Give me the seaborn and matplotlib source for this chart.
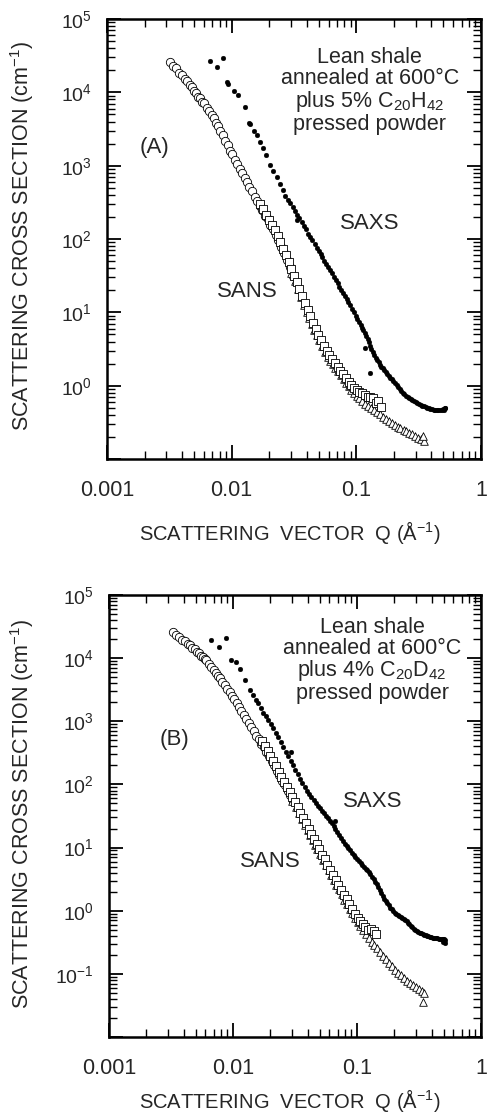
import numpy as np
import pandas as pd
import seaborn as sns
import matplotlib
matplotlib.use("Agg")
import matplotlib.pyplot as plt
from matplotlib.ticker import LogLocator, NullFormatter

# ---------------------------------------------------------------- data
# Panel A: lean shale annealed at 600 C plus 5% C20H42, pressed powder
q_a_circ = [0.0032, 0.0034, 0.0036, 0.0038, 0.0040, 0.0042, 0.0044, 0.0046, 0.0048, 0.0050,
            0.0052, 0.0054, 0.0056, 0.0058, 0.0060, 0.0063, 0.0066, 0.0069, 0.0072, 0.0075,
            0.0078, 0.0081, 0.0085, 0.0089, 0.0093, 0.0097, 0.0101, 0.0106, 0.0111, 0.0116,
            0.0121, 0.0127, 0.0133, 0.0139, 0.0146, 0.0153, 0.0160, 0.0168, 0.0176, 0.0185,
            0.0194, 0.0204, 0.0214, 0.0225, 0.0236, 0.0248, 0.0262, 0.0276, 0.0292, 0.0310]
i_a_circ = [25800, 22600, 21500, 18600, 17500, 15300, 14400, 12400, 11800, 10300,
            9800, 8700, 8350, 7400, 7100, 6150, 5650, 4850, 4450, 3850,
            3480, 3010, 2620, 2150, 1890, 1580, 1420, 1190, 1060, 900,
            805, 675, 598, 508, 447, 376, 333, 281, 250, 209,
            186, 155, 137, 114, 98, 79, 65, 51, 41.5, 31.5]

q_a_sq = [0.0170, 0.0180, 0.0190, 0.0200, 0.0211, 0.0222, 0.0234, 0.0246, 0.0259, 0.0272,
          0.0286, 0.0301, 0.0317, 0.0333, 0.0350, 0.0368, 0.0387, 0.0407, 0.0428, 0.0450,
          0.0473, 0.0497, 0.0523, 0.0550, 0.0578, 0.0608, 0.0640, 0.0673, 0.0708, 0.0745,
          0.0783, 0.0823, 0.0866, 0.0910, 0.0957, 0.101, 0.106, 0.111, 0.117, 0.123,
          0.129, 0.136, 0.143, 0.150, 0.158]
i_a_sq = [302, 254, 215, 184, 156, 133, 111, 90.4, 73.8, 60.3,
          49.2, 39.3, 31.7, 25.8, 20.7, 16.6, 13.3, 10.7, 8.83, 7.21,
          5.89, 4.97, 4.15, 3.52, 2.99, 2.64, 2.33, 2.06, 1.82, 1.60,
          1.43, 1.28, 1.13, 1.01, 0.938, 0.879, 0.832, 0.789, 0.741, 0.705,
          0.695, 0.682, 0.585, 0.62, 0.518]

q_a_tri = [0.030, 0.032, 0.034, 0.036, 0.038, 0.040, 0.042, 0.044, 0.046, 0.048,
           0.050, 0.053, 0.056, 0.059, 0.062, 0.065, 0.068, 0.071, 0.075, 0.079,
           0.083, 0.087, 0.091, 0.096, 0.101, 0.106, 0.112, 0.118, 0.124, 0.131,
           0.138, 0.146, 0.154, 0.163, 0.172, 0.182, 0.192, 0.203, 0.214, 0.226,
           0.239, 0.252, 0.266, 0.281, 0.297, 0.314, 0.332, 0.350, 0.345]
i_a_tri = [34.9, 26.5, 20.5, 16.0, 12.5, 10.0, 8.28, 6.89, 5.73, 4.86,
           4.23, 3.48, 2.89, 2.47, 2.20, 1.95, 1.74, 1.57, 1.38, 1.22,
           1.09, 0.975, 0.881, 0.794, 0.731, 0.676, 0.615, 0.566, 0.530, 0.494,
           0.463, 0.434, 0.405, 0.378, 0.352, 0.329, 0.308, 0.291, 0.277, 0.264,
           0.251, 0.239, 0.227, 0.216, 0.206, 0.196, 0.186, 0.178, 0.205]

q_a_saxs = [0.0067, 0.0076, 0.0085, 0.0092, 0.0094, 0.0104, 0.0113, 0.0128, 0.0139, 0.0141,
            0.0150, 0.0160, 0.0169, 0.0178, 0.0190, 0.0203, 0.0216, 0.0231, 0.0244, 0.0258,
            0.0270, 0.0282, 0.0295, 0.0308, 0.0322, 0.0336, 0.0350, 0.0365, 0.0380, 0.0396,
            0.0412, 0.0428, 0.0445, 0.0462, 0.0480, 0.0498, 0.0516, 0.0535, 0.0555, 0.0575,
            0.0596, 0.0617, 0.0639, 0.0661, 0.0684, 0.0708, 0.0732, 0.0757, 0.0783, 0.0810,
            0.0837, 0.0865, 0.0894, 0.0924, 0.0955, 0.0987, 0.102, 0.105, 0.108, 0.111,
            0.114, 0.117, 0.120, 0.123, 0.126, 0.129, 0.132, 0.135, 0.139, 0.143,
            0.147, 0.151, 0.155, 0.159, 0.163, 0.167, 0.172, 0.177, 0.182, 0.187,
            0.192, 0.198, 0.204, 0.210, 0.216, 0.222, 0.229, 0.236, 0.243, 0.250,
            0.258, 0.266, 0.274, 0.282, 0.291, 0.300, 0.309, 0.318, 0.328, 0.338,
            0.348, 0.359, 0.370, 0.381, 0.393, 0.405, 0.417, 0.430, 0.443, 0.456,
            0.470, 0.484, 0.498, 0.510, 0.515, 0.505, 0.0334, 0.128, 0.118]
i_a_saxs = [26700, 22100, 29400, 13800, 13100, 10500, 9190, 6310, 3800, 3650,
            3000, 2610, 2100, 1740, 1400, 1020, 850, 698, 560, 465,
            390, 340, 305, 275, 240, 215, 195, 172, 152, 135,
            118, 106, 96, 85, 76, 68, 62, 56, 50, 46,
            41, 37.5, 34, 30.5, 27.5, 25, 22.5, 20.3, 18.5, 16.8,
            15.2, 13.7, 12.4, 11.2, 10.0, 9.0, 8.1, 7.4, 6.8, 6.1,
            5.7, 5.2, 4.8, 4.3, 3.9, 3.5, 3.2, 2.9, 2.6, 2.4,
            2.25, 2.08, 1.94, 1.80, 1.72, 1.62, 1.54, 1.46, 1.37, 1.29,
            1.22, 1.15, 1.08, 1.02, 0.96, 0.90, 0.85, 0.80, 0.76, 0.73,
            0.70, 0.67, 0.65, 0.63, 0.61, 0.59, 0.575, 0.56, 0.545, 0.53,
            0.52, 0.505, 0.495, 0.49, 0.48, 0.475, 0.47, 0.465, 0.465, 0.46,
            0.46, 0.465, 0.475, 0.49, 0.50, 0.47, 180, 1.5, 3.3]

# Panel B: lean shale annealed at 600 C plus 4% C20D42, pressed powder
q_b_circ = [0.0033, 0.0035, 0.0037, 0.0039, 0.0041, 0.0043, 0.0045, 0.0047, 0.0049, 0.0051,
            0.0053, 0.0055, 0.0057, 0.0059, 0.0061, 0.0064, 0.0067, 0.0070, 0.0073, 0.0076,
            0.0079, 0.0082, 0.0086, 0.0090, 0.0094, 0.0098, 0.0102, 0.0107, 0.0112, 0.0117,
            0.0122, 0.0128, 0.0134, 0.0140, 0.0147, 0.0154, 0.0161, 0.0169, 0.0177, 0.0186,
            0.0195, 0.0205, 0.0215, 0.0226, 0.0237, 0.0249, 0.0262, 0.0276, 0.0290, 0.0305]
i_b_circ = [25900, 23300, 21600, 19300, 18400, 16700, 15900, 14400, 13800, 12500,
            12000, 10900, 10400, 9550, 9200, 8100, 7350, 6420, 5900, 5180,
            4780, 4200, 3760, 3220, 2900, 2520, 2260, 1920, 1690, 1430,
            1280, 1080, 950, 810, 707, 595, 527, 443, 388, 325,
            286, 236, 202, 164, 141, 115, 97, 78.5, 66.8, 54.3]

q_b_sq = [0.0170, 0.0180, 0.0190, 0.0200, 0.0211, 0.0222, 0.0234, 0.0246, 0.0259, 0.0272,
          0.0286, 0.0301, 0.0317, 0.0333, 0.0350, 0.0368, 0.0387, 0.0407, 0.0428, 0.0450,
          0.0473, 0.0497, 0.0523, 0.0550, 0.0578, 0.0608, 0.0640, 0.0673, 0.0708, 0.0745,
          0.0783, 0.0823, 0.0866, 0.0910, 0.0957, 0.101, 0.106, 0.111, 0.117, 0.123,
          0.129, 0.136, 0.141]
i_b_sq = [483, 402, 337, 286, 235, 195, 160, 133, 110, 91.3,
          76.4, 62.8, 52.0, 43.3, 35.7, 29.5, 24.3, 20.0, 16.7, 13.8,
          11.4, 9.44, 7.76, 6.49, 5.38, 4.46, 3.70, 3.08, 2.57, 2.14,
          1.79, 1.51, 1.26, 1.07, 0.90, 0.774, 0.692, 0.622, 0.55, 0.499,
          0.519, 0.481, 0.424]

q_b_tri = [0.030, 0.032, 0.034, 0.036, 0.038, 0.040, 0.042, 0.044, 0.046, 0.048,
           0.050, 0.053, 0.056, 0.059, 0.062, 0.065, 0.068, 0.071, 0.075, 0.079,
           0.083, 0.087, 0.091, 0.096, 0.101, 0.106, 0.112, 0.118, 0.124, 0.131,
           0.138, 0.146, 0.154, 0.163, 0.172, 0.182, 0.192, 0.203, 0.214, 0.226,
           0.239, 0.252, 0.266, 0.281, 0.297, 0.314, 0.332, 0.350, 0.340]
i_b_tri = [55.6, 43.8, 34.8, 28.0, 22.7, 18.7, 15.6, 13.1, 11.0, 9.38,
           8.02, 6.47, 5.27, 4.34, 3.63, 3.04, 2.58, 2.22, 1.82, 1.50,
           1.27, 1.08, 0.931, 0.778, 0.659, 0.575, 0.493, 0.425, 0.372, 0.324,
           0.287, 0.253, 0.223, 0.195, 0.171, 0.150, 0.132, 0.117, 0.105, 0.0948,
           0.0855, 0.0776, 0.0720, 0.0670, 0.0624, 0.0581, 0.0541, 0.0505, 0.036]

q_b_saxs = [0.0067, 0.0077, 0.0087, 0.0097, 0.0105, 0.0113, 0.0126, 0.0138, 0.0146, 0.0153,
            0.0160, 0.0168, 0.0176, 0.0184, 0.0193, 0.0202, 0.0211, 0.0221, 0.0232, 0.0243,
            0.0255, 0.0267, 0.0279, 0.0292, 0.0305, 0.0319, 0.0333, 0.0348, 0.0363, 0.0379,
            0.0395, 0.0412, 0.0429, 0.0446, 0.0464, 0.0482, 0.0501, 0.0520, 0.0540, 0.0560,
            0.0581, 0.0602, 0.0624, 0.0647, 0.0670, 0.0694, 0.0718, 0.0743, 0.0769, 0.0796,
            0.0823, 0.0851, 0.0880, 0.0910, 0.0940, 0.0971, 0.1003, 0.1035, 0.1068, 0.1102,
            0.1137, 0.1172, 0.1208, 0.1245, 0.1283, 0.1322, 0.1361, 0.1401, 0.1442, 0.1484,
            0.1527, 0.1571, 0.1616, 0.1662, 0.1709, 0.1757, 0.1806, 0.1857, 0.1909, 0.1962,
            0.2017, 0.2073, 0.2131, 0.2190, 0.2251, 0.2313, 0.2377, 0.2443, 0.2510, 0.2579,
            0.2650, 0.2723, 0.2798, 0.2875, 0.2954, 0.3035, 0.3118, 0.3204, 0.3292, 0.3382,
            0.3475, 0.3571, 0.3669, 0.3770, 0.3873, 0.3980, 0.4089, 0.4201, 0.4317, 0.4435,
            0.4557, 0.4683, 0.4811, 0.4943, 0.5079, 0.500, 0.510, 0.505, 0.490, 0.0292, 0.0660]
i_b_saxs = [19400, 15000, 20800, 9330, 8670, 6680, 4500, 3160, 2600, 2180,
            1940, 1620, 1350, 1220, 1040, 916, 780, 663, 557, 468,
            392, 329, 279, 238, 203, 172, 147, 123, 106, 90.3,
            77.8, 69.3, 62.7, 56.6, 50.8, 46.1, 41.7, 38.2, 34.9, 32.0,
            29.3, 26.8, 24.7, 22.1, 19.8, 17.7, 15.9, 14.2, 12.7, 11.4,
            10.6, 9.73, 9.0, 8.28, 7.67, 7.10, 6.58, 6.12, 5.70, 5.35,
            4.97, 4.66, 4.36, 4.08, 3.77, 3.44, 3.15, 2.90, 2.61, 2.34,
            2.09, 1.88, 1.71, 1.56, 1.43, 1.31, 1.21, 1.12, 1.05, 0.972,
            0.918, 0.883, 0.849, 0.820, 0.789, 0.759, 0.731, 0.703, 0.676, 0.643,
            0.608, 0.575, 0.545, 0.521, 0.504, 0.484, 0.466, 0.451, 0.440, 0.428,
            0.416, 0.406, 0.399, 0.393, 0.386, 0.380, 0.376, 0.372, 0.368, 0.364,
            0.360, 0.358, 0.355, 0.352, 0.348, 0.33, 0.31, 0.36, 0.32, 330, 26]

# Axis ticks and labels
x_ticks = [0.001, 0.01, 0.1, 1]
x_tick_labels = ["0.001", "0.01", "0.1", "1"]
y_exp_a = [-1, 0, 1, 2, 3, 4, 5]
y_exp_b = [-2, -1, 0, 1, 2, 3, 4, 5]
y_tick_labels_a = ["", r"$10^{0}$", r"$10^{1}$", r"$10^{2}$", r"$10^{3}$", r"$10^{4}$", r"$10^{5}$"]
y_tick_labels_b = ["", r"$10^{-1}$", r"$10^{0}$", r"$10^{1}$", r"$10^{2}$", r"$10^{3}$",
                   r"$10^{4}$", r"$10^{5}$"]

notes_a = ["Lean shale", "annealed at 600°C", r"plus 5% C$_{20}$H$_{42}$", "pressed powder"]
notes_b = ["Lean shale", "annealed at 600°C", r"plus 4% C$_{20}$D$_{42}$", "pressed powder"]

# ---------------------------------------------------------------- style
sns.set_style("ticks")
plt.rcParams["font.family"] = ["Liberation Sans", "DejaVu Sans"]
plt.rcParams["mathtext.fontset"] = "custom"
plt.rcParams["mathtext.rm"] = "Liberation Sans"
plt.rcParams["mathtext.it"] = "Liberation Sans:italic"
plt.rcParams["mathtext.bf"] = "Liberation Sans:bold"
plt.rcParams["mathtext.default"] = "regular"

W, H = 487, 1119
fig = plt.figure(figsize=(W / 100, H / 100), dpi=100)
fig.patch.set_facecolor("white")

ax_a = fig.add_axes([107 / W, 1 - 459 / H, 374 / W, 440 / H])
ax_b = fig.add_axes([109 / W, 1 - 1037 / H, 372 / W, 442 / H])


def draw_panel(ax, circ, sq, tri, saxs, y_exp, y_labels):
    df_c = pd.DataFrame({"Q": circ[0], "I": circ[1]})
    df_t = pd.DataFrame({"Q": tri[0], "I": tri[1]})
    df_s = pd.DataFrame({"Q": sq[0], "I": sq[1]})
    df_x = pd.DataFrame({"Q": saxs[0], "I": saxs[1]})

    sns.scatterplot(data=df_c, x="Q", y="I", ax=ax, marker="o", s=36, color="white",
                    edgecolor="black", linewidth=0.6, zorder=3, legend=False)
    sns.scatterplot(data=df_t, x="Q", y="I", ax=ax, marker="^", s=30, color="white",
                    edgecolor="black", linewidth=0.6, zorder=4, legend=False)
    sns.scatterplot(data=df_s, x="Q", y="I", ax=ax, marker="s", s=34, color="white",
                    edgecolor="black", linewidth=0.6, zorder=5, legend=False)
    sns.scatterplot(data=df_x, x="Q", y="I", ax=ax, marker="o", s=12, color="black",
                    edgecolor="black", linewidth=0.2, zorder=6, legend=False)

    ax.set_xscale("log")
    ax.set_yscale("log")
    ax.set_xlim(1e-3, 1)
    ax.set_ylim(10.0 ** y_exp[0], 10.0 ** y_exp[-1])

    ax.set_xticks(x_ticks, labels=x_tick_labels)
    ax.xaxis.set_minor_locator(LogLocator(base=10, subs=np.arange(2, 10), numticks=20))
    ax.xaxis.set_minor_formatter(NullFormatter())
    ax.set_yticks([10.0 ** e for e in y_exp], labels=y_labels)
    ax.yaxis.set_minor_locator(LogLocator(base=10, subs=np.arange(2, 10), numticks=20))
    ax.yaxis.set_minor_formatter(NullFormatter())

    ax.tick_params(which="major", direction="in", length=10, width=1.3,
                   top=True, right=True, color="black")
    ax.tick_params(which="minor", direction="in", length=5.5, width=1.0,
                   top=True, right=True, color="black")
    ax.tick_params(axis="x", which="major", labelsize=15.5, pad=15)
    ax.tick_params(axis="y", which="major", labelsize=14, pad=11)
    for sp in ax.spines.values():
        sp.set_visible(True)
        sp.set_linewidth(1.8)
        sp.set_color("black")
    ax.set_xlabel("")
    ax.set_ylabel("")
    ax.set_facecolor("white")


draw_panel(ax_a, (q_a_circ, i_a_circ), (q_a_sq, i_a_sq), (q_a_tri, i_a_tri),
           (q_a_saxs, i_a_saxs), y_exp_a, y_tick_labels_a)
draw_panel(ax_b, (q_b_circ, i_b_circ), (q_b_sq, i_b_sq), (q_b_tri, i_b_tri),
           (q_b_saxs, i_b_saxs), y_exp_b, y_tick_labels_b)

# Sample descriptions, one block per panel
ax_a.text(0.703, 0.936, "\n".join(notes_a), transform=ax_a.transAxes, ha="center",
          va="top", multialignment="center", fontsize=15.5, linespacing=1.0)
ax_b.text(0.707, 0.950, "\n".join(notes_b), transform=ax_b.transAxes, ha="center",
          va="top", multialignment="center", fontsize=15.5, linespacing=0.98)

ax_a.text(0.128, 0.707, "(A)", transform=ax_a.transAxes, ha="center", va="center", fontsize=16)
ax_b.text(0.177, 0.674, "(B)", transform=ax_b.transAxes, ha="center", va="center", fontsize=16)

ax_a.text(0.374, 0.380, "SANS", transform=ax_a.transAxes, ha="center", va="center", fontsize=16)
ax_a.text(0.703, 0.536, "SAXS", transform=ax_a.transAxes, ha="center", va="center", fontsize=16)
ax_b.text(0.433, 0.396, "SANS", transform=ax_b.transAxes, ha="center", va="center", fontsize=16)
ax_b.text(0.710, 0.532, "SAXS", transform=ax_b.transAxes, ha="center", va="center", fontsize=16)

# Axis titles
ylab = r"SCATTERING CROSS SECTION (cm$^{-1}$)"
xlab = r"SCATTERING  VECTOR  Q (Å$^{-1}$)"
for yc in [236, 814]:
    fig.text(29 / W, 1 - yc / H, ylab, rotation=90, rotation_mode="anchor",
             ha="center", va="baseline", fontsize=15.5)
fig.text(290 / W, 1 - 540 / H, xlab, ha="center", va="baseline", fontsize=14.5)
fig.text(290 / W, 1 - 1108 / H, xlab, ha="center", va="baseline", fontsize=14.5)

fig.savefig("out.png", dpi=100, facecolor="white")
